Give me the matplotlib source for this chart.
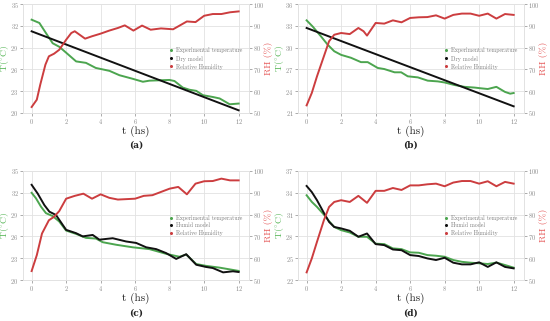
import matplotlib
matplotlib.use("Agg")
import matplotlib.pyplot as plt
from matplotlib.lines import Line2D

# ── Datos ─────────────────────────────────────────────────────────────────
# (a) experimental + modelo seco
t_a = [0, 0.45, 0.83, 1.22, 1.61, 2.0, 2.58, 3.15, 3.72, 4.12, 4.51, 5.09, 5.87,
       6.45, 6.83, 7.41, 7.99, 8.28, 8.76, 9.15, 9.54, 9.93, 10.51, 10.9, 11.48, 12]
temp_a = [32.84, 32.39, 31.0, 29.6, 29.1, 28.3, 27.1, 26.9, 26.2, 26.0, 25.8, 25.2,
          24.7, 24.3, 24.45, 24.5, 24.55, 24.4, 23.5, 23.2, 23.05, 22.45, 22.2, 22.0,
          21.2, 21.3]
t_rh_a = [0, 0.3, 0.5, 0.8, 1.0, 1.3, 1.6, 2.0, 2.3, 2.5, 3.1, 3.5, 4.0, 4.5, 5.0,
          5.4, 5.9, 6.4, 6.9, 7.5, 8.2, 9.0, 9.5, 10.0, 10.5, 11.0, 11.5, 12]
rh_a = [52.75, 56.1, 63.0, 72.2, 76.0, 77.2, 79.0, 83.6, 86.7, 87.5, 84.1, 85.2,
        86.4, 87.8, 89.0, 90.2, 87.8, 90.1, 88.2, 88.8, 88.4, 92.0, 91.7, 94.6,
        95.4, 95.4, 96.2, 96.6]
model_t_a = [0, 12]
model_a = [31.24, 20.37]

# (b) experimental + modelo seco
t_b = [0, 0.35, 0.83, 1.22, 1.6, 2.0, 2.57, 3.15, 3.54, 4.12, 4.5, 5.1, 5.48, 5.86,
       6.45, 7.02, 7.6, 8.0, 8.57, 9.15, 9.73, 10.1, 10.5, 11.0, 11.5, 11.8, 12]
temp_b = [33.75, 32.9, 31.55, 30.4, 29.5, 29.0, 28.6, 28.0, 28.0, 27.2, 27.05, 26.6,
          26.6, 26.05, 25.9, 25.45, 25.35, 25.2, 24.85, 24.6, 24.5, 24.4, 24.3, 24.6,
          23.9, 23.66, 23.75]
t_rh_b = [0, 0.3, 0.6, 1.0, 1.3, 1.6, 2.0, 2.5, 3.0, 3.3, 3.5, 4.0, 4.5, 5.0, 5.5,
          6.0, 6.5, 7.0, 7.5, 8.0, 8.5, 9.0, 9.5, 10.0, 10.5, 11.0, 11.5, 12]
rh_b = [53.5, 59.2, 66.8, 76.0, 82.9, 85.9, 86.7, 86.2, 89.0, 87.5, 85.5, 91.3,
        91.0, 92.5, 91.6, 93.6, 93.9, 94.0, 94.8, 93.3, 95.0, 95.6, 95.6, 94.6,
        95.6, 93.3, 95.4, 95.0]
model_t_b = [0, 12]
model_b = [32.7, 21.92]

# (c) experimental + modelo húmedo
t_c = [0, 0.25, 0.54, 0.83, 1.22, 1.6, 2.0, 2.57, 3.15, 3.73, 4.12, 4.9, 5.86, 6.83,
       7.8, 8.57, 8.96, 9.54, 10.1, 10.9, 12]
temp_c = [32.0, 31.25, 30.1, 29.2, 28.8, 28.05, 26.8, 26.35, 25.8, 25.7, 25.2, 24.85,
          24.5, 24.25, 23.6, 23.2, 23.5, 22.2, 21.95, 21.7, 21.25]
t_mod_c = [0, 0.35, 0.74, 1.03, 1.41, 2.0, 2.57, 2.96, 3.54, 3.93, 4.7, 5.48, 6.06,
           6.64, 7.22, 7.8, 8.38, 8.96, 9.54, 10.1, 10.5, 11.1, 11.67, 12]
model_c = [33.1, 31.9, 30.3, 29.4, 28.95, 26.9, 26.45, 26.0, 26.2, 25.55, 25.75, 25.3,
           25.1, 24.5, 24.25, 23.7, 22.9, 23.55, 22.1, 21.8, 21.65, 21.05, 21.2, 21.1]
t_rh_c = [0, 0.3, 0.6, 1.0, 1.3, 1.6, 2.0, 2.5, 3.0, 3.5, 4.0, 4.5, 5.0, 6.0, 6.5,
          7.0, 7.5, 8.0, 8.5, 9.0, 9.5, 10.0, 10.5, 11.0, 11.5, 12]
rh_c = [54.1, 61.4, 71.3, 77.4, 79.0, 81.6, 87.3, 88.6, 89.6, 87.3, 89.3, 87.7, 86.9,
        87.3, 88.6, 88.9, 90.4, 91.9, 92.7, 89.3, 94.2, 95.3, 95.4, 96.5, 95.7, 95.7]

# (d) experimental + modelo húmedo
t_d = [0, 0.3, 0.6, 1.0, 1.3, 1.6, 2.0, 2.5, 3.0, 3.5, 4.0, 4.5, 5.0, 5.5, 6.0, 6.5,
       7.0, 7.5, 8.0, 8.5, 9.0, 9.5, 10.0, 10.5, 11.0, 11.5, 12]
temp_d = [33.66, 32.75, 32.06, 31.0, 30.1, 29.3, 28.86, 28.54, 27.95, 27.95, 27.0,
          26.94, 26.35, 26.25, 25.8, 25.75, 25.43, 25.34, 25.2, 24.75, 24.5, 24.38,
          24.3, 24.2, 24.4, 24.06, 23.7]
model_d = [34.94, 34.1, 32.98, 31.24, 30.0, 29.3, 29.1, 28.77, 27.95, 28.4, 26.94,
           26.8, 26.2, 26.1, 25.43, 25.3, 24.97, 24.75, 25.06, 24.38, 24.15, 24.15,
           24.43, 23.8, 24.43, 23.8, 23.6]
rh_d = [53.5, 59.9, 67.5, 77.4, 83.5, 85.8, 86.6, 85.8, 88.6, 85.4, 90.9, 90.9, 92.2,
        91.3, 93.4, 93.4, 93.9, 94.2, 93.0, 94.7, 95.4, 95.4, 94.2, 95.3, 93.0, 95.0,
        94.2]

# ── Estilo ────────────────────────────────────────────────────────────────
plt.rcParams["font.family"] = "serif"
plt.rcParams["font.serif"] = ["cmr10", "DejaVu Serif"]
plt.rcParams["mathtext.fontset"] = "cm"
plt.rcParams["axes.formatter.use_mathtext"] = True

GREEN = "#4ca54f"
RED = "#cc3d3f"
BLACK = "#111111"
GRID = "#e2e2e2"
TICK = "#8a8a8a"

fig = plt.figure(figsize=(5.5, 3.21), dpi=100)

W, H = 226 / 550, 109 / 321
positions = {
    "a": [23 / 550, 1 - 113 / 321, W, H],
    "b": [298 / 550, 1 - 113 / 321, W, H],
    "c": [23 / 550, 1 - 280 / 321, W, H],
    "d": [298 / 550, 1 - 280 / 321, W, H],
}

panels = [
    ("a", t_a, temp_a, model_t_a, model_a, t_rh_a, rh_a, (20, 35), "Dry model", 1 - 145 / 321),
    ("b", t_b, temp_b, model_t_b, model_b, t_rh_b, rh_b, (21, 36), "Dry model", 1 - 145 / 321),
    ("c", t_c, temp_c, t_mod_c, model_c, t_rh_c, rh_c, (20, 35), "Humid model", 1 - 313 / 321),
    ("d", t_d, temp_d, t_d, model_d, t_d, rh_d, (22, 37), "Humid model", 1 - 313 / 321),
]

for key, tt, temp, tm, mod, trh, rh, ylim, model_name, tag_y in panels:
    ax = fig.add_axes(positions[key])
    ax2 = ax.twinx()

    ax.plot(tt, temp, color=GREEN, lw=1.4, zorder=3)
    ax.plot(tm, mod, color=BLACK, lw=1.4, zorder=4)
    ax2.plot(trh, rh, color=RED, lw=1.4)

    ax.set_xlim(-0.5, 12.6)
    ax.set_ylim(*ylim)
    ax.set_yticks(range(ylim[0], ylim[1] + 1, 3))
    ax.set_xticks(range(0, 13, 2))
    ax2.set_ylim(50, 100)
    ax2.set_yticks(range(50, 101, 10))

    ax.grid(True, color=GRID, lw=0.6)
    ax.set_axisbelow(True)
    for a in (ax, ax2):
        for s in a.spines.values():
            s.set_color(GRID)
            s.set_linewidth(0.6)
        a.tick_params(labelsize=4.6, colors=TICK, length=2, width=0.5, pad=1.2)
    ax.tick_params(axis="x", pad=1.0)

    ax.set_xlabel("t (hs)", fontsize=8, color="#222222", va="center")
    ax.xaxis.set_label_coords(0.5, -0.165)
    ax.set_ylabel(r"T($^{\circ}$C)", fontsize=7, color="#5cb85c", va="center")
    ax.yaxis.set_label_coords(-0.08, 0.5)
    ax2.set_ylabel("RH (%)", fontsize=7, color="#e55555", va="center")
    ax2.yaxis.set_label_coords(1.085, 0.5)

    handles = [
        Line2D([], [], ls="none", marker="o", ms=1.2, color=GREEN),
        Line2D([], [], ls="none", marker="o", ms=1.2, color=BLACK),
        Line2D([], [], ls="none", marker="o", ms=1.2, color=RED),
    ]
    labels = ["Experimental temperature", model_name, "Relative Humidity"]
    leg = ax2.legend(handles, labels, loc="center right", bbox_to_anchor=(0.985, 0.5),
                     fontsize=4.2, frameon=False, handlelength=0.6, handletextpad=0.6,
                     labelspacing=0.35, borderpad=0)
    for txt in leg.get_texts():
        txt.set_color("#777777")

    x0, _, w, _ = positions[key]
    fig.text(x0 + w / 2, tag_y, f"({key})", ha="center", va="center", fontsize=6.5,
             fontweight="bold", family="DejaVu Serif", color="#222222")

fig.savefig("out.png", dpi=100)
